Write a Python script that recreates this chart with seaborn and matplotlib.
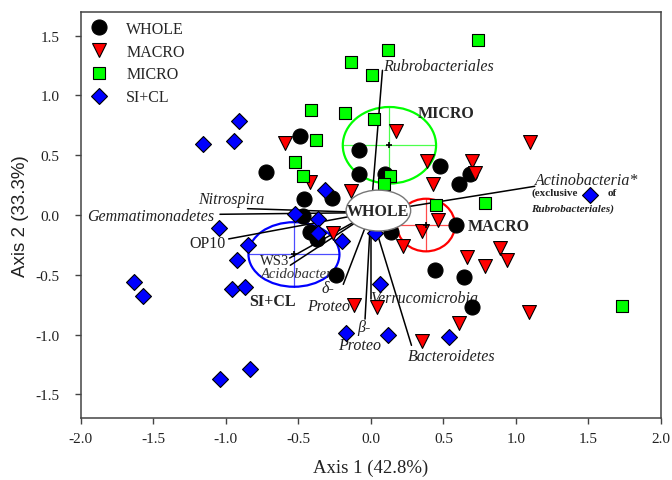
import numpy as np
import pandas as pd
import matplotlib
matplotlib.use("Agg")
import matplotlib.pyplot as plt
import seaborn as sns
from matplotlib.patches import Ellipse
from matplotlib.lines import Line2D

# ---------------- data ----------------
whole_x = [-0.49, -0.72, -0.46, -0.27, -0.08, -0.08, 0.10, 0.48, 0.61, 0.68,
           0.59, 0.44, 0.645, 0.70, 0.14, -0.24, -0.42, -0.37, -0.465]
whole_y = [0.66, 0.36, 0.13, 0.14, 0.54, 0.345, 0.34, 0.41, 0.26, 0.34,
           -0.08, -0.46, -0.52, -0.77, -0.14, -0.50, -0.14, -0.20, -0.01]

macro_x = [-0.59, -0.42, -0.14, 0.17, 1.10, 0.385, 0.70, 0.72, 0.43, 0.46,
           0.35, 0.22, 0.665, 0.89, 0.79, 0.94, 1.09, 0.61, 0.35, 0.04,
           -0.115, -0.26]
macro_y = [0.60, 0.28, 0.20, 0.70, 0.61, 0.45, 0.45, 0.35, 0.26, -0.04,
           -0.13, -0.26, -0.35, -0.28, -0.43, -0.38, -0.81, -0.90, -1.05, -0.77,
           -0.75, -0.15]

micro_x = [0.74, 0.12, -0.14, 0.01, -0.41, -0.175, 0.02, -0.38, -0.52, -0.47,
           0.13, 0.09, 0.79, 0.45, 1.73]
micro_y = [1.46, 1.38, 1.28, 1.17, 0.88, 0.85, 0.80, 0.63, 0.44, 0.325,
           0.325, 0.26, 0.10, 0.08, -0.76]

sicl_x = [-1.16, -0.91, -0.94, -0.315, -0.52, -0.365, 1.51, 0.06, -0.17, 0.12,
          0.54, -0.20, -1.05, -0.85, -0.92, -0.96, -0.865, -1.63, -1.57, -1.04,
          -0.83, -0.365, 0.03]
sicl_y = [0.595, 0.79, 0.62, 0.21, 0.01, -0.03, 0.165, -0.58, -0.99, -1.00,
          -1.02, -0.22, -0.105, -0.25, -0.38, -0.62, -0.60, -0.56, -0.675, -1.37,
          -1.29, -0.15, -0.15]

groups = ["WHOLE", "MACRO", "MICRO", "SI+CL"]

# group centroid ellipses (center x, center y, width, height)
ell_cx = [0.128, 0.38, -0.53]
ell_cy = [0.583, -0.084, -0.33]
ell_w = [0.643, 0.40, 0.627]
ell_h = [0.64, 0.44, 0.54]
ell_groups = ["MICRO", "MACRO", "SI+CL"]
whole_ell = (0.052, 0.037, 0.445, 0.342)

# taxon vectors (end points)
vec_names = ["Rubrobacteriales", "Actinobacteria", "Nitrospira", "Gemmatimonadetes",
             "OP10", "WS3", "Acidobacteria", "delta", "beta", "Verrucomicrobia",
             "Bacteroidetes"]
vec_x = [0.08, 1.13, -0.85, -1.04, -0.98, -0.56, -0.555, -0.19, -0.04, 0.0, 0.28]
vec_y = [1.21, 0.24, 0.053, 0.006, -0.20, -0.36, -0.42, -0.58, -0.87, -0.70, -1.09]
vec_origin = (0.0, 0.02)

x_ticks = [-2.0, -1.5, -1.0, -0.5, 0.0, 0.5, 1.0, 1.5, 2.0]
y_ticks = [-1.5, -1.0, -0.5, 0.0, 0.5, 1.0, 1.5]
x_label = "Axis 1 (42.8%)"
y_label = "Axis 2 (33.3%)"

# ---------------- style ----------------
sns.set_theme(style="white")
plt.rcParams["font.family"] = ["Liberation Serif", "DejaVu Serif"]
plt.rcParams["axes.unicode_minus"] = False

colors = {"WHOLE": "#000000", "MACRO": "#ff0000", "MICRO": "#00ff00", "SI+CL": "#0000ff"}
markers = {"WHOLE": "o", "MACRO": "v", "MICRO": "s", "SI+CL": "D"}
sizes = {"WHOLE": 117, "MACRO": 100, "MICRO": 80, "SI+CL": 66}

df = pd.concat([
    pd.DataFrame({"x": whole_x, "y": whole_y, "group": "WHOLE"}),
    pd.DataFrame({"x": macro_x, "y": macro_y, "group": "MACRO"}),
    pd.DataFrame({"x": micro_x, "y": micro_y, "group": "MICRO"}),
    pd.DataFrame({"x": sicl_x, "y": sicl_y, "group": "SI+CL"}),
], ignore_index=True)

fig = plt.figure(figsize=(6.72, 4.81), dpi=100)
ax = fig.add_axes([80.7 / 672, 1 - 419.3 / 481, 580.3 / 672, 406.6 / 481])

# group ellipses with crosshairs
for cx, cy, w, h, g in zip(ell_cx, ell_cy, ell_w, ell_h, ell_groups):
    c = colors[g]
    ax.add_patch(Ellipse((cx, cy), w, h, fill=False, edgecolor=c, lw=1.6, zorder=2))
    ax.plot([cx - w / 2, cx + w / 2], [cy, cy], color=c, lw=0.9, alpha=0.7, zorder=2)
    ax.plot([cx, cx], [cy - h / 2, cy + h / 2], color=c, lw=0.9, alpha=0.7, zorder=2)
    ax.plot([cx], [cy], marker="+", color="black", ms=4, mew=1.2, zorder=6)

# vectors
for vx, vy in zip(vec_x, vec_y):
    ax.plot([vec_origin[0], vx], [vec_origin[1], vy], color="black", lw=1.1, zorder=3)

# points
for g in groups:
    sub = df[df["group"] == g]
    sns.scatterplot(data=sub, x="x", y="y", marker=markers[g], color=colors[g],
                    s=sizes[g], edgecolor="black", linewidth=0.8, ax=ax,
                    zorder=4, legend=False)

# WHOLE ellipse
wx, wy, ww, wh = whole_ell
ax.add_patch(Ellipse((wx, wy), ww, wh, facecolor="white", edgecolor="#777777",
                     lw=1.0, zorder=7))
ax.text(wx, wy - 0.005, "WHOLE", ha="center", va="center", fontsize=11.5,
        fontweight="bold", zorder=8)

# group labels
ax.text(0.326, 0.853, "MICRO", ha="left", va="center", fontsize=11.5, fontweight="bold", zorder=8)
ax.text(0.668, -0.092, "MACRO", ha="left", va="center", fontsize=11.5, fontweight="bold", zorder=8)
ax.text(-0.838, -0.717, "SI+CL", ha="left", va="center", fontsize=11.5, fontweight="bold", zorder=8)

# taxon labels
it = dict(fontsize=11.5, style="italic", color="#222222", zorder=3, va="center")
ax.text(0.085, 1.25, "Rubrobacteriales", ha="left", **it)
ax.text(1.13, 0.29, "Actinobacteria*", ha="left", **it)
ax.text(1.11, 0.187, "(exclusive", ha="left", va="center", fontsize=8,
        fontweight="bold", color="#222222", zorder=3)
ax.text(1.63, 0.187, "of", ha="left", va="center", fontsize=8,
        fontweight="bold", color="#222222", zorder=3)
ax.text(1.104, 0.056, "Rubrobacteriales)", ha="left", va="center", fontsize=8,
        fontweight="bold", style="italic", color="#222222", zorder=3)
ax.text(-1.19, 0.137, "Nitrospira", ha="left", **it)
ax.text(-1.08, -0.008, "Gemmatimonadetes", ha="right", **it)
ax.text(-1.25, -0.23, "OP10", ha="left", va="center", fontsize=11.5, color="#222222", zorder=3)
ax.text(-0.762, -0.378, "WS3", ha="left", va="center", fontsize=10.5, color="#222222", zorder=3)
ax.text(-0.762, -0.487, "Acidobacteria", ha="left", fontsize=10.5, style="italic",
        color="#333333", zorder=3, va="center")
ax.text(-0.337, -0.613, "δ-", ha="left", **it)
ax.text(-0.44, -0.763, "Proteo", ha="left", **it)
ax.text(-0.096, -0.94, "β-", ha="left", **it)
ax.text(-0.223, -1.09, "Proteo", ha="left", **it)
ax.text(-0.005, -0.69, "Verrucomicrobia", ha="left", **it)
ax.text(0.255, -1.175, "Bacteroidetes", ha="left", **it)

# axes
ax.set_xlim(-2.0, 2.0)
ax.set_ylim(-1.7, 1.7)
ax.set_xticks(x_ticks)
ax.set_yticks(y_ticks)
ax.set_xticklabels([f"{v:.1f}" for v in x_ticks])
ax.set_yticklabels([f"{v:.1f}" for v in y_ticks])
ax.tick_params(axis="both", which="major", direction="out", length=4, width=1,
               color="#444444", labelsize=11, bottom=True, left=True,
               top=False, right=False, labelcolor="#222222")
ax.tick_params(axis="x", pad=6)
ax.tick_params(axis="y", pad=11)
for sp in ax.spines.values():
    sp.set_visible(True)
    sp.set_color("#444444")
    sp.set_linewidth(1.1)
ax.set_xlabel(x_label, fontsize=13.5, labelpad=10, color="#222222")
ax.set_ylabel(y_label, fontsize=13.5, labelpad=5, color="#222222",
              family=["Liberation Sans", "DejaVu Sans"])

# legend
handles = [Line2D([0], [0], marker=markers[g], color="none", markerfacecolor=colors[g],
                  markeredgecolor="black", markeredgewidth=0.8,
                  markersize=np.sqrt(sizes[g])) for g in groups]
ax.legend(handles, groups, loc="upper left", bbox_to_anchor=(0.015, 0.977),
          frameon=False, fontsize=11.5, handlelength=1.2, handletextpad=1.1,
          labelspacing=0.42, borderpad=0, borderaxespad=0)

fig.savefig("out.png", dpi=100)
